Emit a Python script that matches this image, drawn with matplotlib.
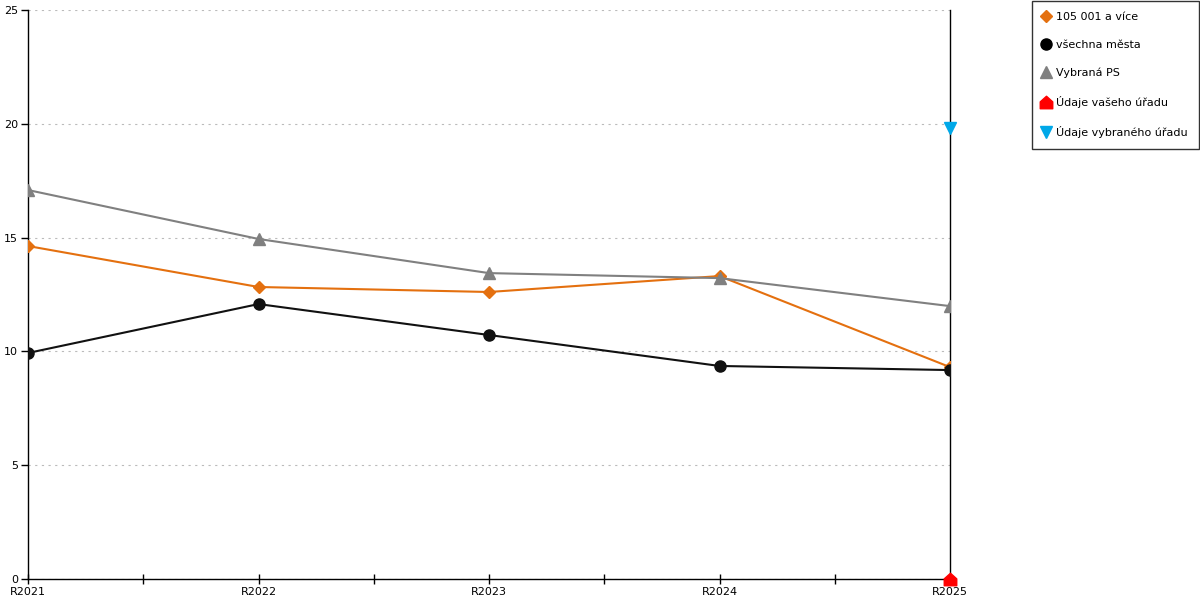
import numpy as np
import matplotlib
matplotlib.use("Agg")
import matplotlib.pyplot as plt
from matplotlib.lines import Line2D
from matplotlib.path import Path

# Data
years = ["R2021", "R2022", "R2023", "R2024", "R2025"]
city_105k = [14.63, 12.83, 12.61, 13.31, 9.31]
all_cities = [9.93, 12.08, 10.72, 9.36, 9.18]
selected_ps = [17.09, 14.94, 13.44, 13.22, 11.99]
your_office = [0.0]
selected_office = [19.8]

orange = "#E4700F"
gray = "#808080"
red = "#FF0000"
blue = "#00A8E8"

# house shaped marker for "your office"
house = Path([(-1, -1), (1, -1), (1, 0.1), (0, 1), (-1, 0.1), (-1, -1)],
             [Path.MOVETO, Path.LINETO, Path.LINETO, Path.LINETO, Path.LINETO, Path.CLOSEPOLY])

plt.rcParams['font.family'] = ['DejaVu Sans']
plt.rcParams['font.size'] = 8

fig = plt.figure(figsize=(12, 6), dpi=100)
ax = fig.add_axes([28 / 1200, 1 - 579 / 600, (950 - 28) / 1200, (579 - 10) / 600])

x = np.arange(len(years))
ax.plot(x, city_105k, color=orange, lw=1.5, marker="D", ms=6, zorder=3)
ax.plot(x, all_cities, color="#111111", lw=1.5, marker="o", ms=8, zorder=4)
ax.plot(x, selected_ps, color=gray, lw=1.5, marker="^", ms=9, zorder=3)
ax.plot([x[-1]], your_office, ls="none", color=red, marker=house, ms=9, zorder=5, clip_on=False)
ax.plot([x[-1]], selected_office, ls="none", color=blue, marker="v", ms=9, zorder=5, clip_on=False)

ax.set_xlim(0, len(years) - 1)
ax.set_ylim(0, 25)
ax.set_xticks(x)
ax.set_xticklabels(years)
ax.set_xticks(x[:-1] + 0.5, minor=True)
ax.set_yticks(range(0, 26, 5))
ax.tick_params(axis="x", which="both", direction="inout", length=7, width=1, pad=2)
ax.tick_params(axis="y", direction="out", length=5, width=1, pad=2)
ax.yaxis.grid(True, color="#BBBBBB", ls=(0, (2, 4)), lw=0.8)
ax.set_axisbelow(True)
ax.spines["top"].set_visible(False)
for s in ["left", "right", "bottom"]:
    ax.spines[s].set_linewidth(1)
    ax.spines[s].set_color("black")

handles = [
    Line2D([], [], ls="none", marker="D", color=orange, ms=6),
    Line2D([], [], ls="none", marker="o", color="black", ms=8),
    Line2D([], [], ls="none", marker="^", color=gray, ms=9),
    Line2D([], [], ls="none", marker=house, color=red, ms=9),
    Line2D([], [], ls="none", marker="v", color=blue, ms=9),
]
labels = ["105 001 a více", "všechna města", "Vybraná PS", "Údaje vašeho úřadu", "Údaje vybraného úřadu"]
leg = fig.legend(handles, labels, loc="upper left", bbox_to_anchor=(1032 / 1200, 1 - 1 / 600),
                 frameon=True, fancybox=False, edgecolor="black", handlelength=0.5,
                 handletextpad=0.7, labelspacing=1.6, borderpad=1.0, borderaxespad=0, fontsize=8)
leg.get_frame().set_linewidth(1)

fig.savefig("out.png", dpi=100)
